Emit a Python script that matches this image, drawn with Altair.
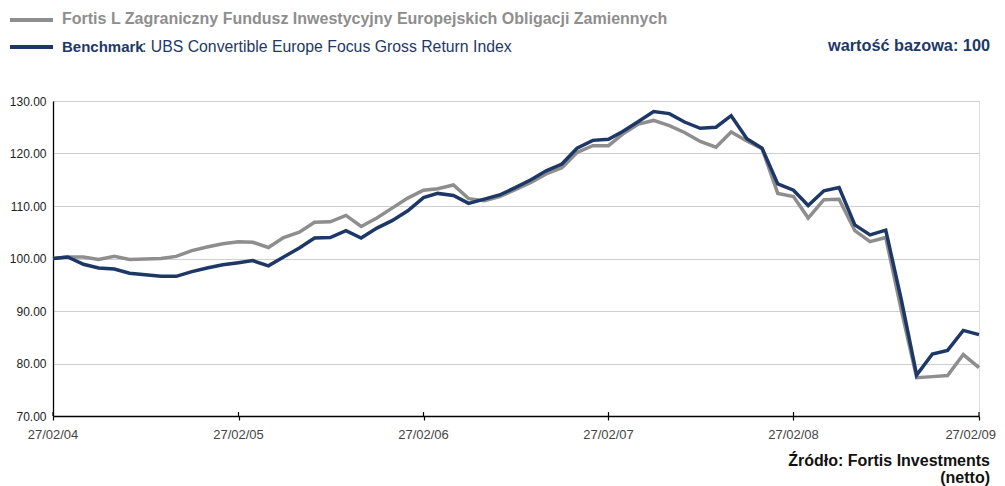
import altair as alt
import pandas as pd

# ---- data ----
start_date = "2004-02-27"
n_months = 61
fund = [100.0, 100.3, 100.3, 99.8, 100.4, 99.8, 99.9, 100.0, 100.4, 101.5,
        102.2, 102.8, 103.2, 103.1, 102.1, 104.0, 105.0, 106.9, 107.0, 108.2,
        106.1, 107.7, 109.6, 111.5, 113.0, 113.3, 114.0, 111.4, 111.0, 111.8,
        113.1, 114.5, 116.1, 117.3, 120.2, 121.5, 121.5, 123.7, 125.6, 126.3,
        125.3, 124.0, 122.3, 121.2, 124.1, 122.4, 120.9, 112.4, 111.8, 107.7,
        111.2, 111.3, 105.3, 103.2, 104.0, 90.0, 77.3, 77.5, 77.7, 81.7, 79.2]
bench = [100.0, 100.3, 98.9, 98.2, 98.0, 97.2, 96.9, 96.6, 96.6, 97.5,
         98.2, 98.8, 99.2, 99.6, 98.6, 100.3, 102.0, 103.9, 104.0, 105.3,
         103.9, 105.8, 107.2, 109.1, 111.6, 112.4, 112.0, 110.5, 111.3, 112.1,
         113.5, 115.0, 116.7, 118.0, 121.0, 122.5, 122.7, 124.2, 126.1, 128.0,
         127.6, 126.0, 124.8, 125.0, 127.2, 122.8, 121.0, 114.2, 113.0, 110.1,
         112.9, 113.5, 106.4, 104.5, 105.4, 92.0, 77.8, 81.8, 82.5, 86.3, 85.5]
tick_years = [2004, 2005, 2006, 2007, 2008, 2009]
tick_labels = ["27/02/04", "27/02/05", "27/02/06", "27/02/07", "27/02/08", "27/02/09"]
y_ticks = [70, 80, 90, 100, 110, 120, 130]

legend_fund = ["Fortis L Zagraniczny Fundusz Inwestycyjny Europejskich Obligacji Zamiennych"]
legend_bench_bold = ["Benchmark"]
legend_bench_rest = [": UBS Convertible Europe Focus Gross Return Index"]
base_text = ["wartość bazowa: 100"]
source_lines = ["Źródło: Fortis Investments", "(netto)"]

GREY = "#8e8e8e"
NAVY = "#1d3866"
FONT = "Liberation Sans"

dates = pd.date_range(start_date, periods=n_months, freq=pd.DateOffset(months=1))
date_str = [d.strftime("%Y-%m-%d") for d in dates]
df_fund = pd.DataFrame({"date": date_str, "v": fund})
df_bench = pd.DataFrame({"date": date_str, "v": bench})
df_ticks = pd.DataFrame({"date": [f"{y}-02-27" for y in tick_years], "lab": tick_labels})

W, H = 926, 315

xscale = alt.Scale(type="utc",
                   domain=[alt.DateTime(year=2004, month=2, date=27, utc=True),
                           alt.DateTime(year=2009, month=2, date=27, utc=True)])
yscale = alt.Scale(domain=[70, 130], nice=False, zero=False)

xaxis = alt.Axis(values=[alt.DateTime(year=y, month=2, date=27, utc=True) for y in tick_years],
                 labels=False, title=None, grid=False, tickSize=4, tickColor="black",
                 tickWidth=1.2, domainColor="black", domainWidth=1.3)
yaxis = alt.Axis(values=y_ticks, format=".2f", title=None, ticks=False,
                 domainColor="black", domainWidth=1.3, gridColor="#cfcfcf", gridWidth=1,
                 labelFont=FONT, labelFontSize=12, labelColor="#222222", labelPadding=7)

line_fund = alt.Chart(df_fund).mark_line(color=GREY, strokeWidth=3.5).encode(
    x=alt.X("date:T", scale=xscale, axis=xaxis),
    y=alt.Y("v:Q", scale=yscale, axis=yaxis),
)
line_bench = alt.Chart(df_bench).mark_line(color=NAVY, strokeWidth=3.5).encode(
    x=alt.X("date:T", scale=xscale),
    y=alt.Y("v:Q", scale=yscale),
)
inner_ticks = alt.Chart(df_ticks).mark_rule(color="black", strokeWidth=1.2).encode(
    x=alt.X("date:T", scale=xscale),
    y=alt.datum(70),
    y2=alt.datum(70.75),
)
xlab_main = alt.Chart(df_ticks.iloc[:-1]).mark_text(
    align="center", baseline="middle", font=FONT, fontSize=13, color="#444444", dy=19
).encode(x=alt.X("date:T", scale=xscale), y=alt.datum(70), text="lab:N")
xlab_last = alt.Chart(df_ticks.iloc[-1:]).mark_text(
    align="right", baseline="middle", font=FONT, fontSize=13, color="#444444", dy=19, dx=17
).encode(x=alt.X("date:T", scale=xscale), y=alt.datum(70), text="lab:N")


def text_layer(texts, x, y, color, bold, align="left", size=16):
    return alt.Chart(pd.DataFrame({"t": texts})).mark_text(
        align=align, baseline="middle", font=FONT, fontSize=size,
        fontWeight="bold" if bold else "normal", color=color,
    ).encode(x=alt.value(x), y=alt.value(y), text="t:N")


sw_fund = alt.Chart(pd.DataFrame({"k": [0]})).mark_rule(color=GREY, strokeWidth=4).encode(
    x=alt.value(-43), x2=alt.value(0), y=alt.value(-81))
sw_bench = alt.Chart(pd.DataFrame({"k": [0]})).mark_rule(color=NAVY, strokeWidth=4).encode(
    x=alt.value(-43), x2=alt.value(0), y=alt.value(-54))

t1 = text_layer(legend_fund, 9, -82, GREY, True, size=16)
t2 = text_layer(legend_bench_bold, 9, -54, NAVY, True, size=15)
t3 = text_layer(legend_bench_rest, 89, -54, NAVY, False, size=15.8)
t4 = text_layer(base_text, 937, -55, NAVY, True, align="right", size=16.3)
t5 = text_layer(source_lines[:1], 937, 360, "#111111", True, align="right", size=16)
t6 = text_layer(source_lines[1:], 937, 377, "#111111", True, align="right", size=16)

chart = alt.layer(
    line_fund, line_bench, inner_ticks, xlab_main, xlab_last,
    sw_fund, sw_bench, t1, t2, t3, t4, t5, t6
).properties(
    width=W, height=H,
    autosize=alt.AutoSizeParams(type="none"),
    padding={"left": 45, "top": 93, "right": 18, "bottom": 72},
).configure_view(stroke=None).configure(background="white")

chart.save("out.html", embed_options={"renderer": "svg", "actions": False})
